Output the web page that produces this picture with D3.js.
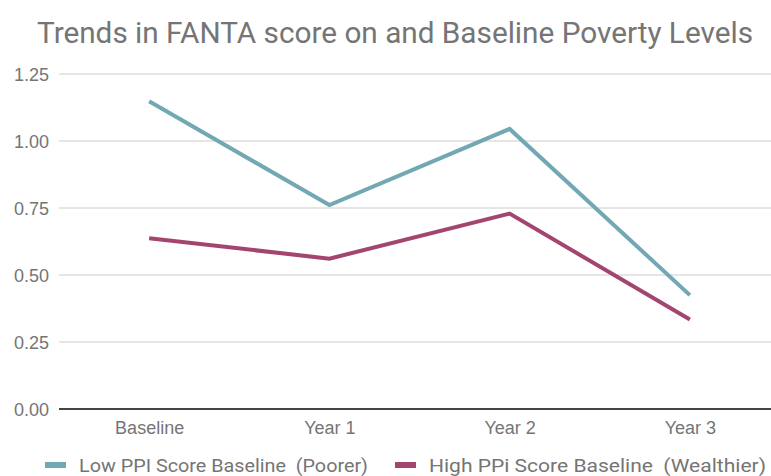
<!DOCTYPE html>
<html>
<head>
<meta charset="utf-8">
<script src="https://cdn.jsdelivr.net/npm/d3@7"></script>
<style>
  body { margin: 0; background: #fff; }
  svg { display: block; font-family: Roboto, "Noto Sans", sans-serif; }
</style>
</head>
<body>
<svg id="chart" width="771" height="476"></svg>
<script>
var categories = ["Baseline", "Year 1", "Year 2", "Year 3"];
var lowPPI = [1.148, 0.761, 1.045, 0.425];
var highPPI = [0.637, 0.561, 0.729, 0.334];
var yTicks = [0, 0.25, 0.5, 0.75, 1.0, 1.25];
var seriesNames = ["Low PPI Score Baseline  (Poorer)", "High PPi Score Baseline  (Wealthier)"];
var colors = ["#72a8b3", "#a3456f"];

var svg = d3.select("#chart");
var plotLeft = 59, plotRight = 780, plotTop = 74, plotBottom = 409;

var x = d3.scalePoint().domain(categories).range([plotLeft, plotRight]).padding(0.5);
var y = d3.scaleLinear().domain([0, 1.25]).range([plotBottom, plotTop]);

// title
svg.append("text")
    .attr("x", 37).attr("y", 43)
    .attr("fill", "#757575")
    .attr("textLength", 716)
    .attr("lengthAdjust", "spacingAndGlyphs")
    .style("font-size", "30px")
    .text("Trends in FANTA score on and Baseline Poverty Levels");

// gridlines
svg.append("g").selectAll("line")
    .data(yTicks.filter(function(d) { return d > 0; }))
    .enter().append("line")
    .attr("x1", plotLeft).attr("x2", 771)
    .attr("y1", function(d) { return y(d); })
    .attr("y2", function(d) { return y(d); })
    .attr("stroke", "#cccccc").attr("stroke-width", 1);

// y labels
var yAxis = svg.append("g")
    .attr("transform", "translate(49,0)")
    .call(d3.axisLeft(y).tickValues(yTicks).tickFormat(d3.format(".2f")).tickSize(0).tickPadding(0));
yAxis.select(".domain").remove();
yAxis.selectAll("text").attr("fill", "#757575").style("font-size", "18px")
    .attr("dy", "0.35em");

// x axis
svg.append("line")
    .attr("x1", plotLeft).attr("x2", 771)
    .attr("y1", y(0)).attr("y2", y(0))
    .attr("stroke", "#444").attr("stroke-width", 2);

var xAxis = svg.append("g")
    .attr("transform", "translate(0," + y(0) + ")")
    .call(d3.axisBottom(x).tickSize(0).tickPadding(0));
xAxis.select(".domain").remove();
xAxis.selectAll("text").attr("fill", "#757575").style("font-size", "18px")
    .attr("dy", null).attr("y", 25);

// lines
var line = d3.line()
    .x(function(d, i) { return x(categories[i]); })
    .y(function(d) { return y(d); });

[lowPPI, highPPI].forEach(function(s, i) {
    svg.append("path")
        .datum(s)
        .attr("d", line)
        .attr("fill", "none")
        .attr("stroke", colors[i])
        .attr("stroke-width", 4)
        .attr("stroke-linejoin", "miter");
});

// legend
var legendX = [45, 395];
var legendW = [289, 337];
seriesNames.forEach(function(name, i) {
    var g = svg.append("g").attr("transform", "translate(" + legendX[i] + ",465)");
    g.append("rect")
        .attr("x", 0).attr("y", -3)
        .attr("width", 21).attr("height", 6)
        .attr("fill", colors[i]);
    g.append("text")
        .attr("x", 34).attr("y", 7)
        .attr("fill", "#757575")
        .attr("textLength", legendW[i])
        .attr("lengthAdjust", "spacingAndGlyphs")
        .style("font-size", "19px")
        .style("white-space", "pre")
        .text(name);
});
</script>
</body>
</html>
